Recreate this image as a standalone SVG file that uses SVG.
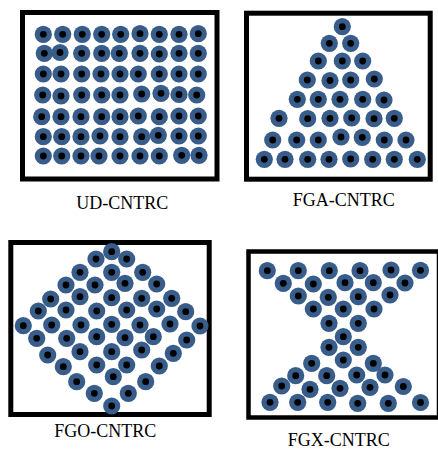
<svg xmlns="http://www.w3.org/2000/svg" xmlns:xlink="http://www.w3.org/1999/xlink" width="438" height="450" viewBox="0 0 438 450">
<style>
.box{fill:#fff;stroke:#000;stroke-width:5}
.lbl{font-family:"Liberation Serif","Times New Roman",serif;font-size:18px;fill:#000;text-anchor:middle}
</style>
<defs>
<g id="d"><circle r="8.6" fill="#385D8A"/><circle r="3.4" fill="#000"/></g>
</defs>
<rect x="0" y="0" width="438" height="450" fill="#fff"/>

<g id="ud">
<rect class="box" x="22.5" y="12.5" width="194.5" height="166.5"/>
<use href="#d" x="43.3" y="34.3"/><use href="#d" x="62.7" y="34.3"/><use href="#d" x="82.3" y="34.3"/><use href="#d" x="101.7" y="34.3"/><use href="#d" x="120.7" y="34.3"/><use href="#d" x="140" y="33.7"/><use href="#d" x="159.3" y="34.3"/><use href="#d" x="179" y="34.3"/><use href="#d" x="198.3" y="33.7"/>
<use href="#d" x="44.3" y="53.3"/><use href="#d" x="60" y="52.5"/><use href="#d" x="81.7" y="53.3"/><use href="#d" x="101.7" y="53.3"/><use href="#d" x="119.3" y="53.3"/><use href="#d" x="140" y="53.3"/><use href="#d" x="159.3" y="54"/><use href="#d" x="179" y="53.3"/><use href="#d" x="198.3" y="53.3"/>
<use href="#d" x="43.3" y="74"/><use href="#d" x="61" y="74"/><use href="#d" x="81.7" y="74"/><use href="#d" x="101" y="74"/><use href="#d" x="120" y="74"/><use href="#d" x="138.3" y="74"/><use href="#d" x="159.3" y="74"/><use href="#d" x="179" y="74"/><use href="#d" x="198.3" y="74"/>
<use href="#d" x="42.7" y="95"/><use href="#d" x="61" y="96"/><use href="#d" x="81.7" y="95"/><use href="#d" x="101.7" y="95"/><use href="#d" x="120" y="95"/><use href="#d" x="141.7" y="94"/><use href="#d" x="161" y="93.3"/><use href="#d" x="179" y="94.5"/><use href="#d" x="196.7" y="95"/>
<use href="#d" x="41.7" y="116.7"/><use href="#d" x="61" y="116.7"/><use href="#d" x="81" y="116.7"/><use href="#d" x="101.7" y="116.7"/><use href="#d" x="120" y="116.7"/><use href="#d" x="138.3" y="116"/><use href="#d" x="159.3" y="116.7"/><use href="#d" x="179" y="116"/><use href="#d" x="198.3" y="116"/>
<use href="#d" x="43.3" y="136.7"/><use href="#d" x="61.7" y="136.7"/><use href="#d" x="81" y="136.7"/><use href="#d" x="100" y="136"/><use href="#d" x="120" y="136.7"/><use href="#d" x="141.7" y="136.7"/><use href="#d" x="158.3" y="135.3"/><use href="#d" x="179" y="136"/><use href="#d" x="198.3" y="136"/>
<use href="#d" x="43.3" y="156"/><use href="#d" x="61.7" y="156"/><use href="#d" x="81" y="156"/><use href="#d" x="99" y="156"/><use href="#d" x="120" y="156"/><use href="#d" x="140" y="156"/><use href="#d" x="159.3" y="156"/><use href="#d" x="181.7" y="155.3"/><use href="#d" x="199" y="155.3"/>
<text class="lbl" x="122.2" y="209">UD-CNTRC</text>
</g>

<g id="fga">
<rect class="box" x="246.5" y="13.2" width="183.7" height="166"/>
<use href="#d" x="342.3" y="26.7"/>
<use href="#d" x="329.3" y="43.3"/><use href="#d" x="350.7" y="43.3"/>
<use href="#d" x="318.3" y="61"/><use href="#d" x="342.3" y="61"/><use href="#d" x="362.7" y="61"/>
<use href="#d" x="307.3" y="80"/><use href="#d" x="330" y="80.5"/><use href="#d" x="350.7" y="80"/><use href="#d" x="374.3" y="79"/>
<use href="#d" x="297.3" y="99.3"/><use href="#d" x="318.3" y="99.3"/><use href="#d" x="340" y="99.3"/><use href="#d" x="362.7" y="99.3"/><use href="#d" x="384" y="100"/>
<use href="#d" x="279" y="118.3"/><use href="#d" x="307.7" y="118.7"/><use href="#d" x="330" y="118.3"/><use href="#d" x="351.7" y="118"/><use href="#d" x="374" y="118.7"/><use href="#d" x="394.3" y="118.3"/>
<use href="#d" x="272.7" y="140"/><use href="#d" x="296.7" y="140"/><use href="#d" x="318.3" y="140"/><use href="#d" x="341" y="137"/><use href="#d" x="362.3" y="137.3"/><use href="#d" x="384.3" y="140"/><use href="#d" x="406" y="140"/>
<use href="#d" x="264.3" y="159.3"/><use href="#d" x="285" y="159.3"/><use href="#d" x="307.7" y="159.3"/><use href="#d" x="329" y="159.3"/><use href="#d" x="350.7" y="159"/><use href="#d" x="372.7" y="159.3"/><use href="#d" x="394.3" y="159.3"/><use href="#d" x="417.3" y="159.3"/>
<text class="lbl" x="343.8" y="206">FGA-CNTRC</text>
</g>

<g id="fgo">
<rect class="box" x="10.8" y="242.5" width="198.4" height="172"/>
<use href="#d" x="111.7" y="251.7"/>
<use href="#d" x="96" y="259"/><use href="#d" x="126.7" y="259"/>
<use href="#d" x="80" y="272.3"/><use href="#d" x="111.7" y="272.3"/><use href="#d" x="142.7" y="272.3"/>
<use href="#d" x="66" y="285"/><use href="#d" x="95" y="285"/><use href="#d" x="125" y="283.3"/><use href="#d" x="156.7" y="284"/>
<use href="#d" x="50.7" y="299"/><use href="#d" x="80" y="296.7"/><use href="#d" x="111.7" y="297.7"/><use href="#d" x="141.7" y="298.3"/><use href="#d" x="171.7" y="298.3"/>
<use href="#d" x="38.3" y="311"/><use href="#d" x="66" y="310"/><use href="#d" x="96.7" y="311"/><use href="#d" x="126.7" y="310"/><use href="#d" x="156.7" y="309"/><use href="#d" x="185.7" y="311.7"/>
<use href="#d" x="23.3" y="325.7"/><use href="#d" x="51.7" y="325"/><use href="#d" x="81" y="325"/><use href="#d" x="111.7" y="324.3"/><use href="#d" x="140" y="325"/><use href="#d" x="170" y="324"/><use href="#d" x="200" y="326"/>
<use href="#d" x="36.7" y="338.3"/><use href="#d" x="66.7" y="338.3"/><use href="#d" x="96.7" y="336.7"/><use href="#d" x="125" y="337.7"/><use href="#d" x="153.3" y="336.7"/><use href="#d" x="186.7" y="340"/>
<use href="#d" x="47.7" y="355"/><use href="#d" x="80" y="351.7"/><use href="#d" x="111.7" y="351.7"/><use href="#d" x="141.7" y="350"/><use href="#d" x="173.3" y="353.3"/>
<use href="#d" x="63.3" y="366.7"/><use href="#d" x="96.7" y="365"/><use href="#d" x="126.7" y="365"/><use href="#d" x="159.3" y="366"/>
<use href="#d" x="76.7" y="381.7"/><use href="#d" x="113.3" y="376.7"/><use href="#d" x="145.7" y="381.7"/>
<use href="#d" x="94.3" y="393.3"/><use href="#d" x="128.3" y="393.3"/>
<use href="#d" x="111.7" y="406"/>
<text class="lbl" x="105.3" y="436.5">FGO-CNTRC</text>
</g>

<g id="fgx">
<rect class="box" x="248.5" y="251.5" width="190.5" height="166" style="stroke-width:4.5"/>
<use href="#d" x="267.3" y="270.7"/><use href="#d" x="298.3" y="270.7"/><use href="#d" x="329.3" y="270.7"/><use href="#d" x="360" y="270.7"/><use href="#d" x="391" y="270"/><use href="#d" x="420.5" y="270.3"/>
<use href="#d" x="283.3" y="283.3"/><use href="#d" x="313.3" y="284"/><use href="#d" x="345" y="282.7"/><use href="#d" x="373.3" y="282.7"/><use href="#d" x="405" y="283"/>
<use href="#d" x="298.3" y="296"/><use href="#d" x="328.3" y="297.3"/><use href="#d" x="358.3" y="296.7"/><use href="#d" x="390" y="295"/>
<use href="#d" x="313.3" y="309"/><use href="#d" x="343.3" y="309"/><use href="#d" x="374" y="309"/>
<use href="#d" x="329" y="323.3"/><use href="#d" x="358.3" y="323.3"/>
<use href="#d" x="343.3" y="336.7"/>
<use href="#d" x="329" y="347.3"/><use href="#d" x="358.3" y="347.3"/>
<use href="#d" x="311.7" y="363.3"/><use href="#d" x="343.3" y="360"/><use href="#d" x="373.3" y="363.3"/>
<use href="#d" x="295.7" y="375.7"/><use href="#d" x="326.7" y="375.7"/><use href="#d" x="356.7" y="375"/><use href="#d" x="385" y="375"/>
<use href="#d" x="281.7" y="386"/><use href="#d" x="310" y="389.3"/><use href="#d" x="340" y="388.3"/><use href="#d" x="370" y="387.3"/><use href="#d" x="403.3" y="386.5"/>
<use href="#d" x="270" y="402.3"/><use href="#d" x="297.7" y="402.3"/><use href="#d" x="327.7" y="402.3"/><use href="#d" x="357.7" y="403.3"/><use href="#d" x="388.3" y="403.3"/><use href="#d" x="420.5" y="402.5"/>
<text class="lbl" x="338.7" y="446">FGX-CNTRC</text>
</g>
</svg>
